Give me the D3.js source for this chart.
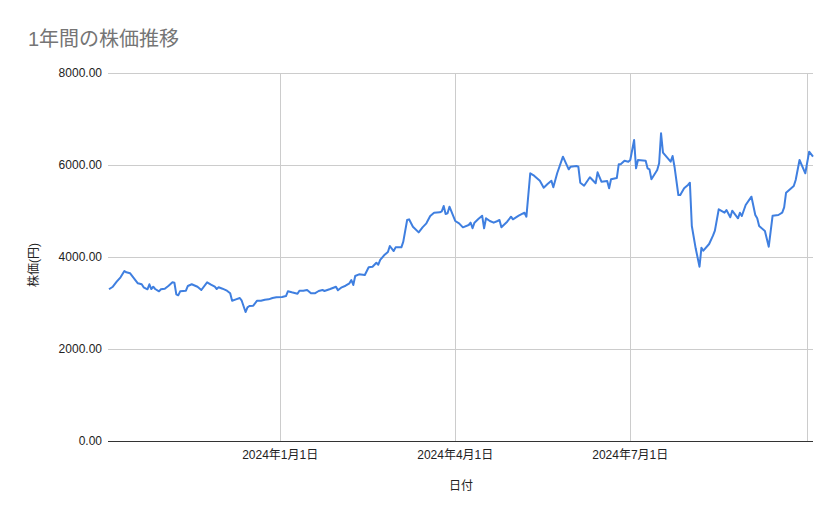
<!DOCTYPE html>
<html>
<head>
<meta charset="utf-8">
<script src="https://cdn.jsdelivr.net/npm/d3@7"></script>
<style>
  html, body { margin: 0; padding: 0; background: #fff; }
  svg { display: block; font-family: "Liberation Sans", Arial, "Noto Sans CJK JP", sans-serif; }
</style>
</head>
<body>
<script>
// values (trading days, 円)
const dates = [
  "2023-10-04","2023-10-06","2023-10-08","2023-10-10","2023-10-12","2023-10-13","2023-10-15","2023-10-17",
  "2023-10-19","2023-10-21","2023-10-22","2023-10-24","2023-10-25","2023-10-26","2023-10-27","2023-10-28",
  "2023-10-30","2023-10-31","2023-11-02","2023-11-04","2023-11-06","2023-11-07","2023-11-08","2023-11-09",
  "2023-11-10","2023-11-13","2023-11-14","2023-11-16","2023-11-19","2023-11-21","2023-11-24","2023-11-26",
  "2023-11-28","2023-11-29","2023-11-30","2023-12-02","2023-12-04","2023-12-06","2023-12-07","2023-12-09",
  "2023-12-11","2023-12-12","2023-12-14","2023-12-15","2023-12-16","2023-12-18","2023-12-20","2023-12-22",
  "2023-12-24","2023-12-26","2023-12-28","2023-12-30","2024-01-02","2024-01-04","2024-01-05","2024-01-07",
  "2024-01-10","2024-01-11","2024-01-13","2024-01-15","2024-01-17","2024-01-19","2024-01-21","2024-01-23",
  "2024-01-24","2024-01-27","2024-01-30","2024-01-31","2024-02-02","2024-02-04","2024-02-06","2024-02-07",
  "2024-02-08","2024-02-09","2024-02-11","2024-02-14","2024-02-16","2024-02-18","2024-02-20","2024-02-21",
  "2024-02-22","2024-02-24","2024-02-26","2024-02-27","2024-02-29","2024-03-01","2024-03-04","2024-03-05",
  "2024-03-07","2024-03-08","2024-03-10","2024-03-13","2024-03-15","2024-03-17","2024-03-19","2024-03-21",
  "2024-03-24","2024-03-25","2024-03-26","2024-03-27","2024-03-28","2024-03-29","2024-04-01","2024-04-03",
  "2024-04-05","2024-04-08","2024-04-09","2024-04-10","2024-04-11","2024-04-13","2024-04-15","2024-04-16",
  "2024-04-17","2024-04-19","2024-04-21","2024-04-23","2024-04-24","2024-04-25","2024-04-28","2024-04-30",
  "2024-05-01","2024-05-04","2024-05-07","2024-05-08","2024-05-10","2024-05-12","2024-05-15","2024-05-17",
  "2024-05-19","2024-05-21","2024-05-22","2024-05-24","2024-05-27","2024-05-30","2024-05-31","2024-06-03",
  "2024-06-04","2024-06-05","2024-06-07","2024-06-10","2024-06-13","2024-06-14","2024-06-16","2024-06-19",
  "2024-06-20","2024-06-21","2024-06-24","2024-06-25","2024-06-26","2024-06-28","2024-06-30","2024-07-01",
  "2024-07-03","2024-07-04","2024-07-05","2024-07-09","2024-07-10","2024-07-11","2024-07-12","2024-07-15",
  "2024-07-16","2024-07-17","2024-07-18","2024-07-22","2024-07-23","2024-07-24","2024-07-26","2024-07-27",
  "2024-07-29","2024-07-31","2024-08-01","2024-08-02","2024-08-04","2024-08-06","2024-08-07","2024-08-08",
  "2024-08-11","2024-08-13","2024-08-14","2024-08-16","2024-08-19","2024-08-20","2024-08-22","2024-08-23",
  "2024-08-26","2024-08-27","2024-08-28","2024-08-30","2024-09-02","2024-09-04","2024-09-05","2024-09-06",
  "2024-09-09","2024-09-11","2024-09-13","2024-09-16","2024-09-18","2024-09-19","2024-09-20","2024-09-24",
  "2024-09-25","2024-09-27","2024-09-30","2024-10-02","2024-10-04"
];

const prices = [
  3298,3354,3463,3558,3696,3667,3646,3537,
  3428,3407,3341,3298,3407,3304,3354,3304,
  3254,3298,3311,3376,3450,3441,3189,3167,
  3254,3268,3370,3407,3354,3283,3450,3398,
  3354,3304,3341,3311,3276,3211,3050,3080,
  3109,3050,2804,2906,2935,2941,3050,3050,
  3072,3080,3109,3124,3130,3152,3254,3232,
  3202,3268,3268,3283,3211,3211,3261,3283,
  3261,3304,3354,3276,3341,3376,3428,3500,
  3391,3587,3624,3609,3776,3789,3876,3833,
  3935,4037,4109,4239,4130,4210,4210,4333,
  4804,4819,4659,4536,4645,4732,4893,4963,
  4971,4993,5109,4935,4950,5094,4783,4732,
  4645,4696,4746,4624,4746,4826,4898,4624,
  4841,4783,4746,4783,4804,4645,4768,4876,
  4819,4898,4963,4876,5820,5768,5659,5507,
  5587,5659,5515,5820,6181,5906,5963,5978,
  5963,5615,5550,5733,5602,5841,5637,5652,
  5493,5689,5717,6015,6015,6094,6072,6109,
  6543,5928,6109,6094,5928,5906,5689,5891,
  6037,6689,6268,6072,6196,5963,5348,5348,
  5493,5565,5615,4674,4189,3789,4203,4137,
  4283,4463,4572,5037,4963,5022,4863,5007,
  4841,4963,4891,5130,5311,4913,4841,4674,
  4565,4224,4898,4913,4963,5080,5398,5543,
  5674,6109,5820,6290,6181
];

const yTicks = [0, 2000, 4000, 6000, 8000];
const xGridDates = ["2024-01-01", "2024-04-01", "2024-07-01", "2024-10-01"];
const xLabelDates = ["2024-01-01", "2024-04-01", "2024-07-01"];

const titleText = "1年間の株価推移";
const xTitle = "日付";
const yTitle = "株価(円)";

const width = 839, height = 519;
const margin = {top: 73, right: 26, bottom: 78, left: 109};

const parse = d3.timeParse("%Y-%m-%d");
const data = dates.map((d, i) => ({date: parse(d), value: prices[i]}));

const x = d3.scaleTime()
    .domain(d3.extent(data, d => d.date))
    .range([margin.left, width - margin.right]);

const y = d3.scaleLinear()
    .domain([0, 8000])
    .range([height - margin.bottom, margin.top]);

const svg = d3.select("body").append("svg")
    .attr("width", width)
    .attr("height", height);

// title
svg.append("text")
    .attr("x", 28)
    .attr("y", 46)
    .attr("fill", "#757575")
    .style("font-size", "20px")
    .text(titleText);

// horizontal grid + y labels
svg.append("g")
  .selectAll("line")
  .data(yTicks.filter(d => d !== 0))
  .enter().append("line")
    .attr("x1", margin.left - 1)
    .attr("x2", width - margin.right)
    .attr("y1", d => Math.round(y(d)) + 0.5)
    .attr("y2", d => Math.round(y(d)) + 0.5)
    .attr("stroke", "#cccccc");

// vertical grid
svg.append("g")
  .selectAll("line")
  .data(xGridDates.map(parse))
  .enter().append("line")
    .attr("x1", d => Math.round(x(d)) + 0.5)
    .attr("x2", d => Math.round(x(d)) + 0.5)
    .attr("y1", margin.top)
    .attr("y2", height - margin.bottom)
    .attr("stroke", "#cccccc");

const fmt = d3.format(".2f");
svg.append("g")
  .selectAll("text")
  .data(yTicks)
  .enter().append("text")
    .attr("x", 102)
    .attr("y", d => y(d) + 4)
    .attr("text-anchor", "end")
    .attr("fill", "#222222")
    .style("font-size", "12px")
    .text(d => fmt(d));

const dateFmt = d3.timeFormat("%Y年%-m月%-d日");
svg.append("g")
  .selectAll("text")
  .data(xLabelDates.map(parse))
  .enter().append("text")
    .attr("x", d => x(d))
    .attr("y", height - margin.bottom + 18)
    .attr("text-anchor", "middle")
    .attr("fill", "#222222")
    .style("font-size", "12px")
    .text(d => dateFmt(d));

// axis titles
svg.append("text")
    .attr("x", (margin.left + width - margin.right) / 2)
    .attr("y", 490)
    .attr("text-anchor", "middle")
    .attr("fill", "#222222")
    .style("font-size", "12px")
    .text(xTitle);

svg.append("text")
    .attr("transform", "translate(38,265) rotate(-90)")
    .attr("text-anchor", "middle")
    .attr("fill", "#222222")
    .style("font-size", "12px")
    .text(yTitle);

// the series
const line = d3.line()
    .x(d => x(d.date))
    .y(d => y(d.value));

svg.append("path")
    .datum(data)
    .attr("d", line)
    .attr("fill", "none")
    .attr("stroke", "#3f7fe0")
    .attr("stroke-width", 2)
    .attr("stroke-linejoin", "round");

// baseline
svg.append("line")
    .attr("x1", margin.left - 1)
    .attr("x2", width - margin.right)
    .attr("y1", Math.round(y(0)) + 0.5)
    .attr("y2", Math.round(y(0)) + 0.5)
    .attr("stroke", "#333333");
</script>
</body>
</html>
